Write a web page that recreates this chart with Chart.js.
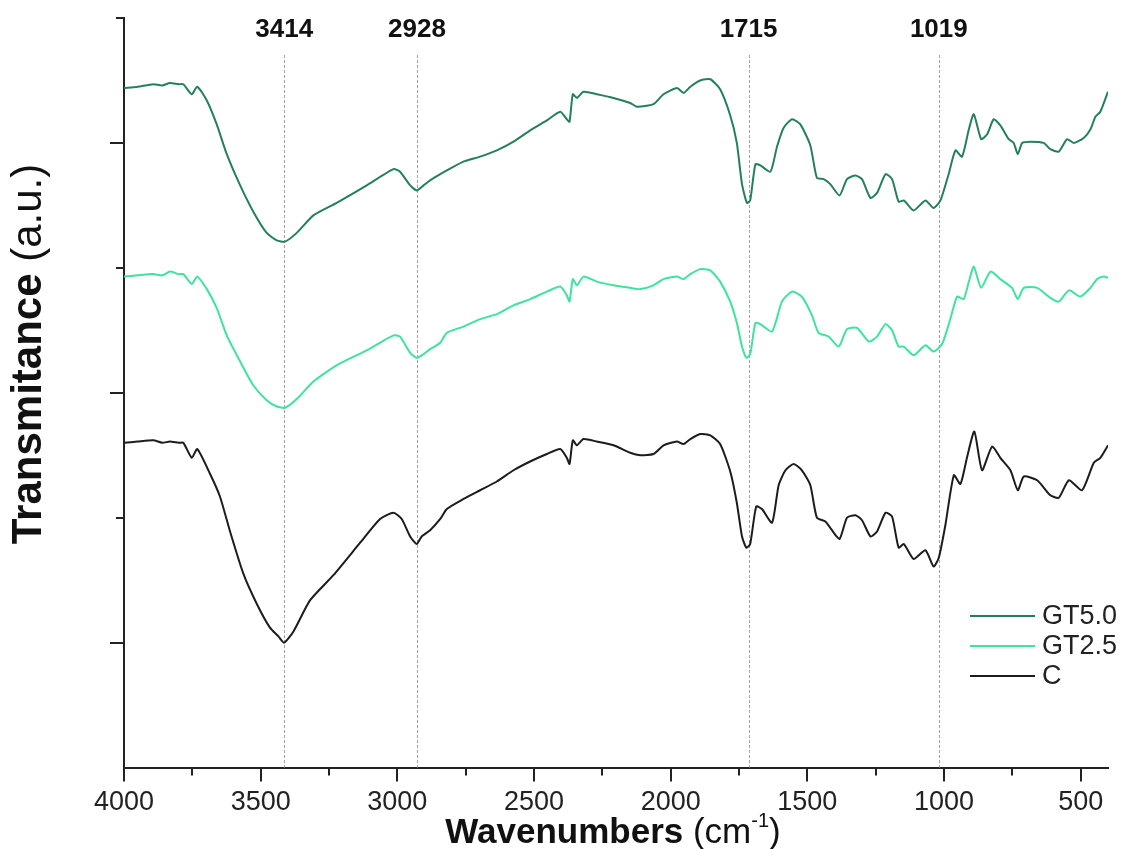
<!DOCTYPE html>
<html>
<head>
<meta charset="utf-8">
<title>FTIR spectra</title>
<script src="https://cdn.jsdelivr.net/npm/chart.js@4.4.0/dist/chart.umd.min.js"></script>
<style>
  html, body { margin: 0; padding: 0; background: #fff; }
  #wrap { width: 1125px; height: 849px; }
</style>
</head>
<body>
<div id="wrap"><canvas id="ftir" width="1125" height="849"></canvas></div>
<script>
// spectra (wavenumber cm-1 / transmittance, offset a.u.)
const gt50Wn = [4000, 3950, 3893, 3860, 3832, 3800, 3783, 3752, 3732, 3697, 3661, 3624, 3575, 3527, 3478, 3441, 3411, 3368, 3307, 3222, 3112, 3014, 2990, 2953, 2929, 2904, 2880, 2843, 2819, 2758, 2697, 2636, 2575, 2514, 2453, 2404, 2380, 2370, 2358, 2343, 2319, 2270, 2209, 2148, 2124, 2063, 2026, 1977, 1953, 1928, 1892, 1855, 1819, 1782, 1758, 1739, 1721, 1709, 1690, 1672, 1635, 1611, 1587, 1556, 1526, 1489, 1465, 1440, 1416, 1382, 1355, 1324, 1300, 1269, 1245, 1214, 1190, 1166, 1147, 1111, 1068, 1038, 1013, 983, 958, 934, 909, 891, 864, 842, 818, 794, 763, 745, 730, 714, 684, 635, 611, 580, 550, 525, 489, 464, 446, 428, 400];
const gt50T = [5.44, 5.45, 5.47, 5.46, 5.48, 5.47, 5.47, 5.39, 5.45, 5.34, 5.15, 4.91, 4.66, 4.45, 4.28, 4.22, 4.21, 4.28, 4.42, 4.52, 4.66, 4.79, 4.77, 4.66, 4.62, 4.66, 4.70, 4.75, 4.78, 4.85, 4.89, 4.94, 5.01, 5.10, 5.18, 5.25, 5.19, 5.17, 5.39, 5.36, 5.41, 5.39, 5.36, 5.32, 5.29, 5.31, 5.39, 5.44, 5.40, 5.45, 5.50, 5.51, 5.43, 5.22, 5.00, 4.67, 4.52, 4.54, 4.83, 4.82, 4.77, 4.97, 5.12, 5.19, 5.15, 4.98, 4.72, 4.71, 4.67, 4.58, 4.71, 4.74, 4.71, 4.56, 4.60, 4.75, 4.71, 4.53, 4.54, 4.46, 4.54, 4.48, 4.54, 4.75, 4.94, 4.89, 5.11, 5.23, 5.03, 5.07, 5.19, 5.14, 5.03, 5.00, 4.91, 5.00, 5.01, 5.00, 4.95, 4.93, 5.03, 5.00, 5.04, 5.11, 5.21, 5.25, 5.41];

const gt25Wn = [4000, 3950, 3893, 3860, 3832, 3800, 3783, 3752, 3732, 3697, 3661, 3624, 3575, 3527, 3478, 3441, 3411, 3368, 3307, 3222, 3112, 3014, 2990, 2953, 2929, 2904, 2880, 2843, 2819, 2758, 2697, 2636, 2575, 2514, 2453, 2404, 2380, 2370, 2358, 2343, 2319, 2270, 2209, 2148, 2111, 2063, 2026, 1977, 1953, 1928, 1892, 1855, 1819, 1782, 1758, 1739, 1723, 1709, 1690, 1672, 1629, 1593, 1556, 1520, 1483, 1459, 1422, 1385, 1355, 1318, 1275, 1245, 1214, 1190, 1166, 1147, 1111, 1068, 1038, 1007, 977, 952, 928, 909, 891, 864, 830, 794, 751, 730, 708, 659, 611, 580, 543, 501, 464, 440, 415, 400];
const gt25T = [3.93, 3.94, 3.95, 3.94, 3.97, 3.95, 3.95, 3.87, 3.93, 3.83, 3.68, 3.46, 3.25, 3.06, 2.94, 2.89, 2.88, 2.95, 3.09, 3.22, 3.34, 3.46, 3.45, 3.32, 3.28, 3.31, 3.35, 3.40, 3.48, 3.53, 3.59, 3.63, 3.70, 3.75, 3.81, 3.85, 3.78, 3.73, 3.91, 3.86, 3.93, 3.89, 3.86, 3.84, 3.83, 3.86, 3.91, 3.93, 3.91, 3.95, 3.99, 3.98, 3.89, 3.73, 3.56, 3.37, 3.28, 3.31, 3.56, 3.55, 3.49, 3.73, 3.81, 3.77, 3.62, 3.48, 3.45, 3.37, 3.51, 3.52, 3.41, 3.45, 3.55, 3.50, 3.37, 3.37, 3.30, 3.38, 3.33, 3.39, 3.59, 3.77, 3.75, 3.89, 4.01, 3.84, 3.97, 3.91, 3.84, 3.75, 3.84, 3.84, 3.76, 3.73, 3.82, 3.77, 3.84, 3.91, 3.93, 3.92];

const cWn = [4000, 3950, 3893, 3860, 3832, 3800, 3783, 3752, 3732, 3685, 3649, 3612, 3563, 3514, 3466, 3435, 3414, 3380, 3319, 3234, 3136, 3063, 3014, 2984, 2953, 2929, 2911, 2880, 2843, 2819, 2758, 2697, 2636, 2575, 2514, 2453, 2404, 2380, 2370, 2358, 2343, 2319, 2270, 2209, 2148, 2111, 2063, 2026, 1977, 1953, 1928, 1892, 1855, 1819, 1782, 1758, 1739, 1723, 1709, 1687, 1666, 1629, 1605, 1580, 1550, 1520, 1489, 1465, 1434, 1410, 1382, 1355, 1324, 1300, 1269, 1245, 1214, 1190, 1166, 1147, 1111, 1068, 1038, 1019, 995, 964, 940, 916, 889, 861, 824, 794, 757, 730, 708, 659, 611, 580, 543, 495, 452, 428, 400];
const cT = [2.60, 2.61, 2.62, 2.60, 2.61, 2.60, 2.60, 2.48, 2.55, 2.35, 2.17, 1.89, 1.55, 1.31, 1.12, 1.05, 1.00, 1.09, 1.34, 1.54, 1.80, 1.99, 2.04, 1.99, 1.85, 1.79, 1.85, 1.90, 1.99, 2.07, 2.15, 2.22, 2.29, 2.38, 2.45, 2.51, 2.55, 2.48, 2.43, 2.62, 2.58, 2.63, 2.61, 2.58, 2.52, 2.50, 2.51, 2.58, 2.61, 2.59, 2.63, 2.67, 2.66, 2.59, 2.37, 2.12, 1.85, 1.76, 1.79, 2.09, 2.07, 1.96, 2.26, 2.38, 2.43, 2.38, 2.26, 2.00, 1.97, 1.90, 1.83, 2.00, 2.02, 1.98, 1.85, 1.89, 2.04, 2.01, 1.76, 1.79, 1.67, 1.74, 1.61, 1.68, 1.94, 2.34, 2.27, 2.48, 2.69, 2.38, 2.57, 2.48, 2.38, 2.22, 2.33, 2.30, 2.18, 2.16, 2.30, 2.22, 2.44, 2.48, 2.58];

const seriesNames = ['GT5.0', 'GT2.5', 'C'];
const seriesColors = ['#24805c', '#3ee39c', '#1c1c1c'];
const peakMarks = [3414, 2928, 1715, 1019];
const xMajor = [4000, 3500, 3000, 2500, 2000, 1500, 1000, 500];
const xMinor = [3750, 3250, 2750, 2250, 1750, 1250, 750];
const yMajor = [1, 3, 5];
const yMinor = [2, 4, 6];

const FONT = '"Liberation Sans", Arial, Helvetica, sans-serif';
const INK = '#222';

const toPoints = (xs, ys) => xs.map((x, i) => ({ x: x, y: ys[i] }));

// ticks, peak markers, axis titles and legend
const decor = {
  id: 'decor',
  beforeDatasetsDraw(chart) {
    const { ctx, chartArea, scales } = chart;
    ctx.save();
    ctx.strokeStyle = '#a0a0a0';
    ctx.lineWidth = 1;
    ctx.setLineDash([3, 2]);
    peakMarks.forEach(p => {
      const x = Math.round(scales.x.getPixelForValue(p)) + 0.5;
      ctx.beginPath();
      ctx.moveTo(x, 55);
      ctx.lineTo(x, chartArea.bottom);
      ctx.stroke();
    });
    ctx.restore();
  },
  afterDraw(chart) {
    const { ctx, chartArea, scales } = chart;
    const xs = scales.x, ys = scales.y;
    ctx.save();
    ctx.strokeStyle = INK;
    ctx.lineWidth = 2;

    // axis tick marks
    const xTick = (v, len) => {
      const x = Math.round(xs.getPixelForValue(v));
      ctx.beginPath();
      ctx.moveTo(x, chartArea.bottom);
      ctx.lineTo(x, chartArea.bottom + len);
      ctx.stroke();
    };
    xMajor.forEach(v => xTick(v, 14));
    xMinor.forEach(v => xTick(v, 8));
    const yTick = (v, len) => {
      const y = Math.round(ys.getPixelForValue(v));
      ctx.beginPath();
      ctx.moveTo(chartArea.left, y);
      ctx.lineTo(chartArea.left - len, y);
      ctx.stroke();
    };
    yMajor.forEach(v => yTick(v, 14));
    yMinor.forEach(v => yTick(v, 8));

    // peak labels
    ctx.fillStyle = '#111';
    ctx.font = 'bold 26px ' + FONT;
    ctx.textAlign = 'center';
    ctx.textBaseline = 'middle';
    peakMarks.forEach(p => {
      ctx.fillText(String(p), xs.getPixelForValue(p), 30);
    });

    // x axis title
    ctx.textAlign = 'left';
    ctx.textBaseline = 'alphabetic';
    const boldX = 'bold 35px ' + FONT, normX = '35px ' + FONT, supX = '20px ' + FONT;
    ctx.font = boldX; const w1 = ctx.measureText('Wavenumbers ').width;
    ctx.font = normX; const w2 = ctx.measureText('(cm').width;
    ctx.font = supX; const w3 = ctx.measureText('-1').width;
    ctx.font = normX; const w4 = ctx.measureText(')').width;
    let tx = 613 - (w1 + w2 + w3 + w4) / 2;
    const ty = 843;
    ctx.font = boldX; ctx.fillText('Wavenumbers ', tx, ty); tx += w1;
    ctx.font = normX; ctx.fillText('(cm', tx, ty); tx += w2;
    ctx.font = supX; ctx.fillText('-1', tx, ty - 16); tx += w3;
    ctx.font = normX; ctx.fillText(')', tx, ty);

    // y axis title
    ctx.save();
    ctx.translate(29, 354);
    ctx.rotate(-Math.PI / 2);
    ctx.textBaseline = 'middle';
    ctx.font = 'bold 42px ' + FONT; const b1 = ctx.measureText('Transmitance ').width;
    ctx.font = '42px ' + FONT; const b2 = ctx.measureText('(a.u.)').width;
    const sx = -(b1 + b2) / 2;
    ctx.font = 'bold 42px ' + FONT; ctx.fillText('Transmitance ', sx, 0);
    ctx.font = '42px ' + FONT; ctx.fillText('(a.u.)', sx + b1, 0);
    ctx.restore();

    // legend
    ctx.font = '27px ' + FONT;
    ctx.textBaseline = 'middle';
    chart.data.datasets.forEach((ds, i) => {
      const y = 616 + i * 30;
      ctx.strokeStyle = ds.borderColor;
      ctx.lineWidth = 2;
      ctx.beginPath();
      ctx.moveTo(970, y);
      ctx.lineTo(1035, y);
      ctx.stroke();
      ctx.fillStyle = INK;
      ctx.fillText(ds.label, 1042, y + 1);
    });
    ctx.restore();
  }
};

new Chart(document.getElementById('ftir'), {
  type: 'line',
  data: {
    datasets: [
      { label: seriesNames[0], data: toPoints(gt50Wn, gt50T), borderColor: seriesColors[0] },
      { label: seriesNames[1], data: toPoints(gt25Wn, gt25T), borderColor: seriesColors[1] },
      { label: seriesNames[2], data: toPoints(cWn, cT), borderColor: seriesColors[2] }
    ].map(d => Object.assign(d, { borderWidth: 2, pointRadius: 0, tension: 0.2, fill: false }))
  },
  options: {
    responsive: false,
    animation: false,
    layout: { padding: { left: 124, right: 17, top: 18, bottom: 11 } },
    plugins: { legend: { display: false }, tooltip: { enabled: false } },
    scales: {
      x: {
        type: 'linear',
        reverse: true,
        min: 400,
        max: 4000,
        afterBuildTicks: s => { s.ticks = xMajor.map(v => ({ value: v })); },
        grid: { display: false, drawTicks: false },
        border: { display: true, color: INK, width: 2 },
        ticks: {
          color: INK, padding: 19, maxRotation: 0, autoSkip: false,
          font: { family: FONT, size: 27 },
          callback: v => String(v)
        }
      },
      y: {
        min: 0,
        max: 6,
        grid: { display: false, drawTicks: false },
        border: { display: true, color: INK, width: 2 },
        ticks: { display: false }
      }
    }
  },
  plugins: [decor]
});
</script>
</body>
</html>
